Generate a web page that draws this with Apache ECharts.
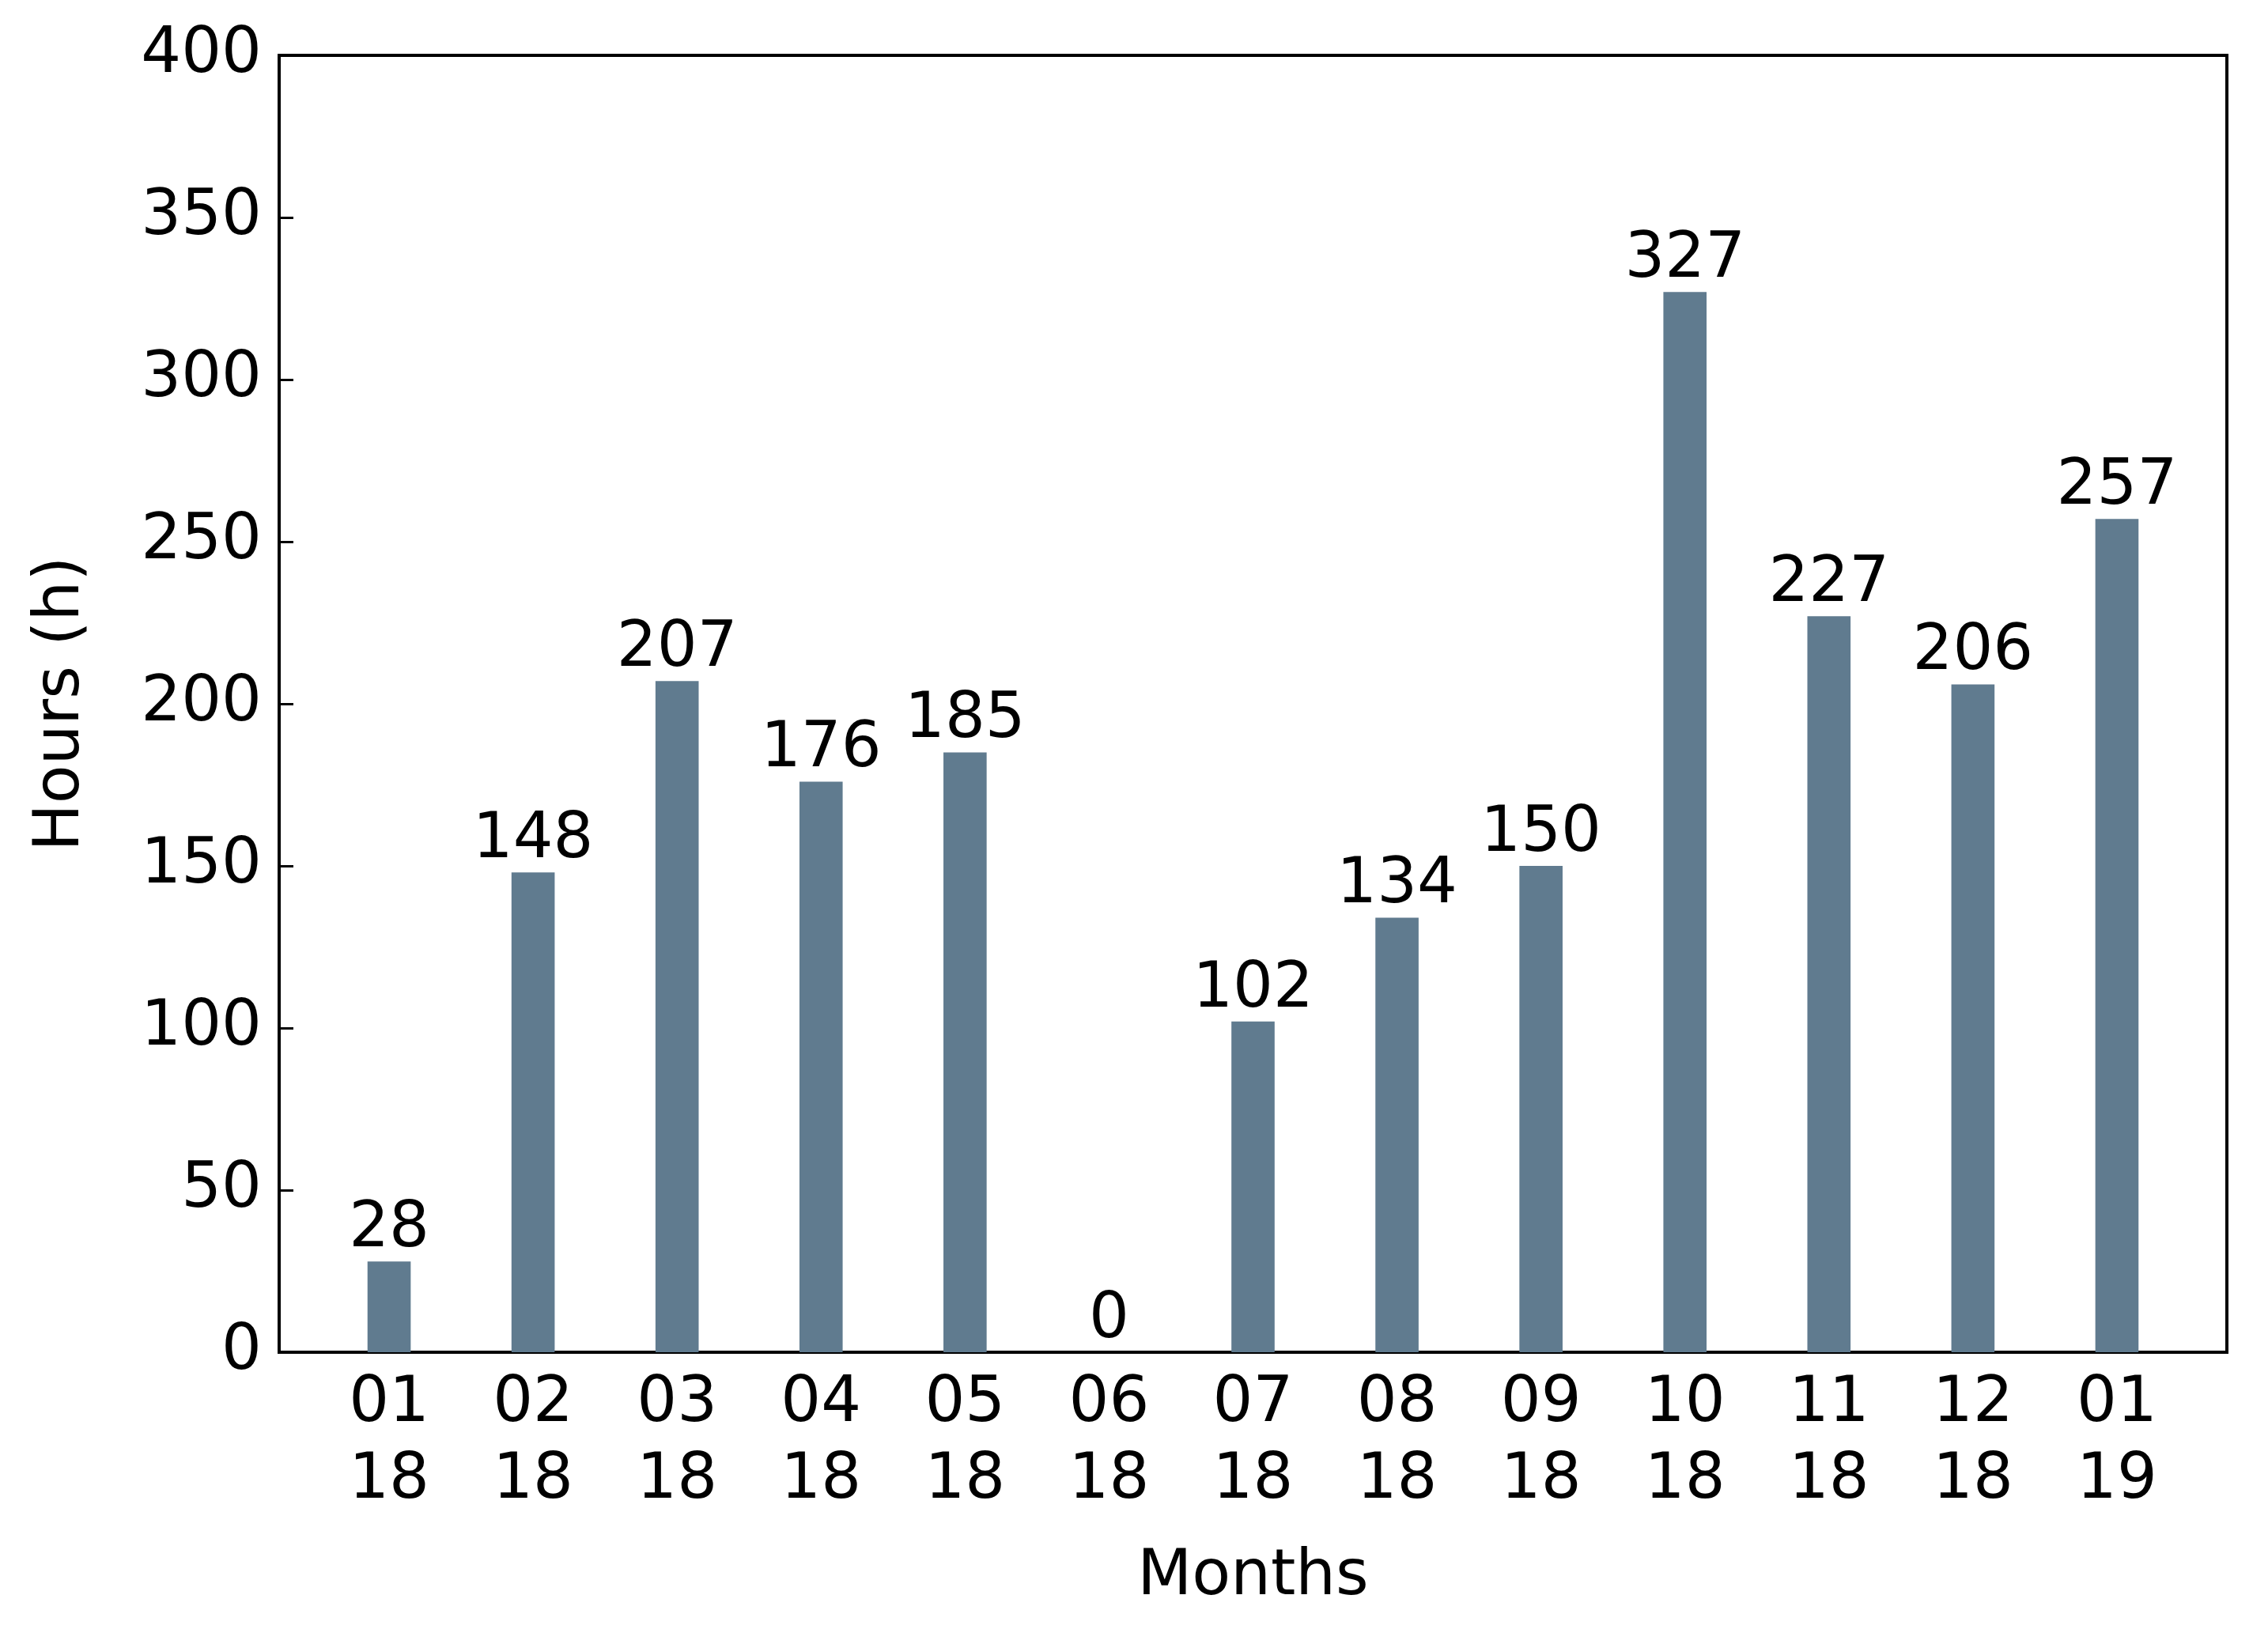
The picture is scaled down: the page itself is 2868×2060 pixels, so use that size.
<!DOCTYPE html>
<html>
<head>
<meta charset="utf-8">
<script src="https://cdn.jsdelivr.net/npm/echarts@6/dist/echarts.min.js"></script>
</head>
<body style="margin:0">
<div id="main" style="width:2868px;height:2060px;"></div>
<script>
var months = ['01\n18','02\n18','03\n18','04\n18','05\n18','06\n18','07\n18','08\n18','09\n18','10\n18','11\n18','12\n18','01\n19'];
var hours = [28, 148, 207, 176, 185, 0, 102, 134, 150, 327, 227, 206, 257];

var chart = echarts.init(document.getElementById('main'));
var font = 'DejaVu Sans';
chart.setOption({
    backgroundColor: '#ffffff',
    animation: false,
    textStyle: { fontFamily: font },
    grid: [
        { left: 353, right: 52, top: 70, bottom: 350, show: true, borderColor: '#000', borderWidth: 4 },
        { left: 401, right: 100, top: 70, bottom: 350 }
    ],
    xAxis: [
        { gridIndex: 0, type: 'value', min: 0, max: 1, show: false },
        { gridIndex: 1, type: 'category', data: months, z: 5,
          axisLine: { show: false },
          axisTick: { inside: true, length: 18, alignWithLabel: true, lineStyle: { color: '#000', width: 3 } },
          axisLabel: { color: '#000', fontSize: 80, lineHeight: 97, margin: 18 },
          name: 'Months', nameLocation: 'middle', nameGap: 245,
          nameTextStyle: { color: '#000', fontSize: 80 } }
    ],
    yAxis: [
        { gridIndex: 0, type: 'value', min: 0, max: 400, interval: 50,
          axisLine: { show: false },
          axisTick: { show: true, inside: true, length: 18, lineStyle: { color: '#000', width: 3 } },
          axisLabel: { color: '#000', fontSize: 80, margin: 22 },
          splitLine: { show: false },
          name: 'Hours (h)', nameLocation: 'middle', nameGap: 235,
          nameTextStyle: { color: '#000', fontSize: 80 } },
        { gridIndex: 1, type: 'value', min: 0, max: 400, show: false }
    ],
    series: [{
        type: 'bar', xAxisIndex: 1, yAxisIndex: 1,
        data: hours, barWidth: '30%',
        itemStyle: { color: '#607b8f' },
        label: { show: true, position: 'top', color: '#000', fontSize: 80, distance: 0 }
    }]
});
</script>
</body>
</html>
